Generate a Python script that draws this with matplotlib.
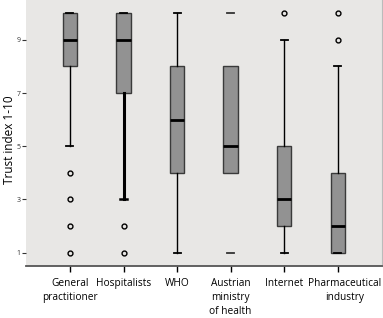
import matplotlib
matplotlib.use("Agg")
import matplotlib.pyplot as plt
from matplotlib.transforms import ScaledTranslation

plt.rcParams['font.family'] = ['Open Sans', 'DejaVu Sans']

# sources and their box statistics (trust index 1-10)
labels = ["General\npractitioner", "Hospitalists", "WHO",
          "Austrian\nministry\nof health", "Internet", "Pharmaceutical\nindustry"]
q1 = [8, 7, 4, 4, 2, 1]
med = [9, 9, 6, 5, 3, 2]
q3 = [10, 10, 8, 8, 5, 4]
whislo = [5, 3, 1, 1, 1, 1]
whishi = [10, 10, 10, 10, 9, 8]
fliers = [[4, 3, 2, 1], [2, 1], [], [], [10], [9, 10]]

stats = []
for i in range(len(labels)):
    stats.append(dict(label=labels[i], q1=q1[i], med=med[i], q3=q3[i],
                      whislo=whislo[i], whishi=whishi[i], fliers=fliers[i]))

fig = plt.figure(figsize=(3.83, 3.18), dpi=100)
ax = fig.add_axes([0.068, 0.164, 0.93, 0.836])
ax.set_facecolor("#e8e7e5")

bp = ax.bxp(stats, widths=0.27, patch_artist=True,
            boxprops=dict(facecolor="#929292", edgecolor="#3a3a3a", linewidth=1),
            medianprops=dict(color="black", linewidth=2),
            whiskerprops=dict(color="black", linewidth=1),
            capprops=dict(color="black", linewidth=1.3),
            flierprops=dict(marker="o", markersize=3.5, markerfacecolor="none",
                            markeredgecolor="black", markeredgewidth=1),
            capwidths=0.13)

# thick lower whisker for hospitalists
bp['whiskers'][2].set_linewidth(2.2)
bp['caps'][2].set_linewidth(1.8)
# austrian ministry: caps only
bp['whiskers'][6].set_visible(False)
bp['whiskers'][7].set_visible(False)
bp['caps'][6].set_color("#333333")
bp['caps'][7].set_color("#333333")

ax.set_xlim(0.18, 6.83)
ax.set_ylim(0.5, 10.5)
ax.set_yticks([1, 3, 5, 7, 9])
ax.tick_params(axis='y', labelsize=5, length=3, width=0.8, pad=1, colors="#333333")
ax.tick_params(axis='x', labelsize=7.3, length=4, width=1, pad=5)
for lbl in ax.get_xticklabels():
    lbl.set_linespacing(1.35)
pharma = ax.get_xticklabels()[-1]
pharma.set_transform(pharma.get_transform() + ScaledTranslation(5 / 72, 0, fig.dpi_scale_trans))

fig.text(0.024, 0.56, "Trust index 1-10", rotation=90, fontsize=8.5,
         ha="center", va="center")

for side in ['top', 'left']:
    ax.spines[side].set_visible(False)
ax.spines['bottom'].set_color("#555555")
ax.spines['bottom'].set_linewidth(1.3)
ax.spines['right'].set_color("#bbbbbb")
ax.spines['right'].set_linewidth(0.8)

fig.savefig("out.png", dpi=100)
